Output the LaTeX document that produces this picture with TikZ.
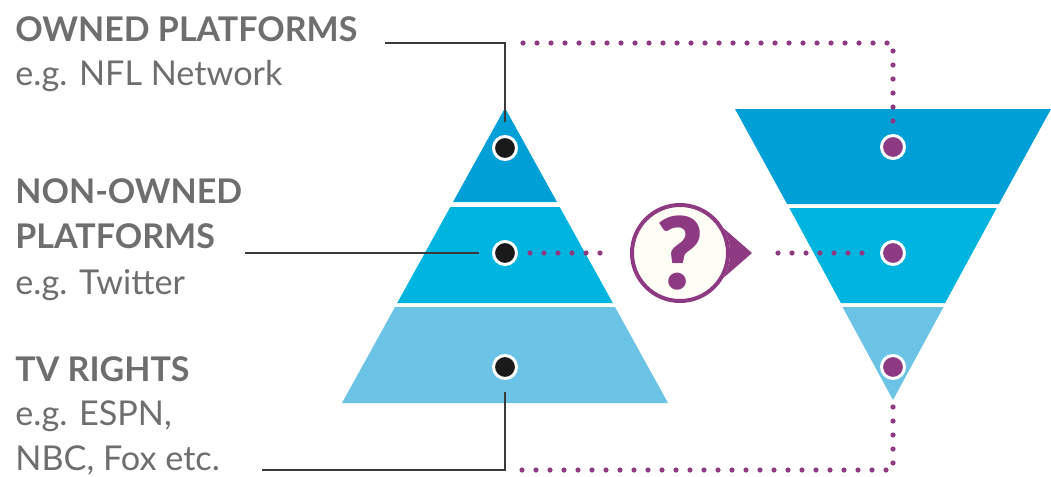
\documentclass[tikz,border=0pt]{standalone}
\usepackage{fontspec}
\setmainfont{Lato}
\newfontfamily\heavyfont{Lato Black}
\definecolor{tierA}{RGB}{0,160,214}
\definecolor{tierB}{RGB}{0,180,224}
\definecolor{tierC}{RGB}{107,196,230}
\definecolor{plum}{RGB}{142,58,130}
\definecolor{greytext}{RGB}{110,110,110}
\definecolor{linegrey}{RGB}{58,58,58}
\definecolor{dotblack}{RGB}{26,26,26}
\definecolor{cream}{RGB}{255,254,246}

\begin{document}
\begin{tikzpicture}[x=0.5pt,y=-0.5pt,
    label/.style={anchor=base west,inner sep=0pt,text=greytext,font=\fontsize{17.1}{21}\selectfont},
    title/.style={label,font=\fontsize{17}{21}\selectfont\bfseries},
    blackdot/.style={circle,fill=dotblack,draw=white,line width=1.5pt,minimum size=11.5pt,inner sep=0pt},
    purpledot/.style={blackdot,fill=plum},
    leader/.style={draw=linegrey,line width=1.2pt},
    dots/.style={plum,line width=2.6pt,line cap=round,dash pattern=on 0pt off 7pt},
    ask/.style={circle,draw=plum,line width=2pt,fill=cream,minimum size=48pt,inner sep=0pt,
        text=plum,font=\fontsize{50}{50}\heavyfont}]
    \useasboundingbox (0,0) rectangle (1051,477);

    % left pyramid
    \fill[tierA] (505,108) -- (557,202) -- (453,202) -- cycle;
    \fill[tierB] (450.3,207) -- (559.7,207) -- (612.8,303) -- (397.2,303) -- cycle;
    \fill[tierC] (395,307) -- (615,307) -- (668,403) -- (342,403) -- cycle;

    % right (upside down) pyramid
    \fill[tierA] (735,109) -- (1051,109) -- (998.9,204) -- (787.1,204) -- cycle;
    \fill[tierB] (789.3,208) -- (996.7,208) -- (945.1,303) -- (840.9,303) -- cycle;
    \fill[tierC] (842.5,307) -- (943.5,307) -- (893,400) -- cycle;
    \coordinate (apexR) at (893,400);

    \node[blackdot] (own) at (505,148) {};
    \node[blackdot] (non) at (505,253) {};
    \node[blackdot] (tv) at (505,367) {};
    \node[purpledot] (ownR) at (893,147) {};
    \node[purpledot] (nonR) at (893,253) {};
    \node[purpledot] (tvR) at (893,367) {};

    \node[title] (ownedT) at (15,41) {OWNED PLATFORMS};
    \node[label] (ownedE) at (15,85) {e.g. NFL Network};
    \node[title] (nonT1) at (15,203) {NON-OWNED};
    \node[title] (nonT2) at (15,248) {PLATFORMS};
    \node[label] (nonE) at (15,294) {e.g. Twitter};
    \node[title] (tvT) at (15,381) {TV RIGHTS};
    \node[label] (tvE1) at (15,425) {e.g. ESPN,};
    \node[label] (tvE2) at (15,470) {NBC, Fox etc.};

    % black leaders
    \coordinate (ownEnd) at (385,43);
    \coordinate (nonEnd) at (245,253);
    \coordinate (tvEnd) at (262,470);
    \draw[leader] (ownEnd) -| ([yshift=6.5pt]own.north);
    \draw[leader] (nonEnd) -- ([xshift=-6.5pt]non.west);
    \draw[leader] ([yshift=-6pt]tv.south) |- (tvEnd);

    % question bubble
    \node[ask] (q) at (680,253) {?};
    \coordinate (tip) at (752,253);
    \fill[plum] (q.30) -- (tip) -- (q.-30) arc[start angle=-30,end angle=30,radius=25pt] -- cycle;

    % purple dotted runs
    \coordinate (topRun) at (523,43);
    \coordinate (baseRun) at (522,470);
    \draw[dots] (topRun) -| ([yshift=5pt]ownR.north);
    \draw[dots] ([xshift=6pt]non.east) -- ([xshift=-10pt]q.west);
    \draw[dots] ([xshift=13pt]tip) -- ([xshift=-6pt]nonR.west);
    \draw[dots] (baseRun) -| (apexR);
\end{tikzpicture}
\end{document}
